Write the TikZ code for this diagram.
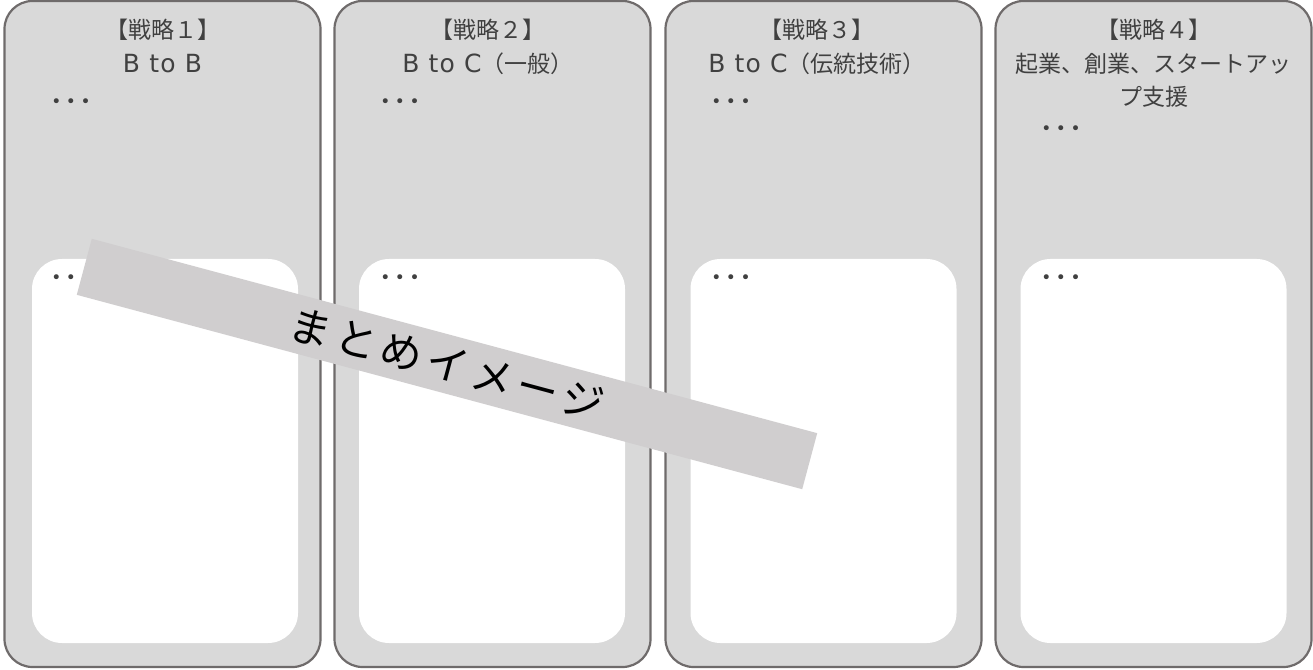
\documentclass[tikz,border=0pt]{standalone}
\usepackage{fontspec}
\setmainfont{Noto Sans CJK JP}
\newfontfamily\lat{DejaVu Sans}[LetterSpace=5]
\newfontfamily\dotfont{DejaVu Sans}
\newcommand{\tridots}{{\dotfont •\hspace{4.6pt}•\hspace{4.6pt}•}}
\definecolor{boxfill}{HTML}{D9D9D9}
\definecolor{boxline}{HTML}{6F6B6B}
\definecolor{txt}{HTML}{404040}
\definecolor{banner}{HTML}{D0CECF}
\begin{document}
\begin{tikzpicture}[x=1pt,y=1pt,
  outerbox/.style={draw=boxline,line width=2.2pt,fill=boxfill,rounded corners=28pt,minimum width=316pt,minimum height=666pt,inner sep=0pt},
  innerbox/.style={fill=white,rounded corners=30pt,minimum width=266pt,minimum height=384pt,inner sep=0pt},
  title/.style={text=txt,font=\fontsize{23}{33.5}\selectfont,align=center,inner sep=0pt,anchor=north},
  dots/.style={text=txt,font=\fontsize{17}{17}\selectfont,inner sep=0pt}]
\useasboundingbox (0,0) rectangle (1313,669);
% outer columns
\node[outerbox] (o1) at (162.5,335) {};
\node[outerbox] (o2) at (492.5,335) {};
\node[outerbox] (o3) at (823.5,335) {};
\node[outerbox] (o4) at (1153.5,335) {};
% inner white panels
\node[innerbox] (i1) at (165,218) {};
\node[innerbox] (i2) at (492,218) {};
\node[innerbox] (i3) at (823.5,218) {};
\node[innerbox] (i4) at (1153.5,218) {};
% titles
\node[title] (t1) at (162.5,650) {【戦略１】\\{\lat\fontsize{25}{33.5}\selectfont B to B}};
\node[title] (t2) at (488,650) {【戦略２】\\{\lat\fontsize{25}{33.5}\selectfont B to C}（一般）};
\node[title] (t3) at (817,650) {【戦略３】\\{\lat\fontsize{25}{33.5}\selectfont B to C}（伝統技術）};
\node[title] (t4) at (1153.5,650) {【戦略４】\\起業、創業、スタートアッ\\プ支援};
% dots
\node[dots] (d1) at (71,566) {\tridots};
\node[dots] (d2) at (400,566) {\tridots};
\node[dots] (d3) at (731,566) {\tridots};
\node[dots] (d4) at (1061,539) {\tridots};
\node[dots] (e1) at (71,390) {\tridots};
\node[dots] (e2) at (400,390) {\tridots};
\node[dots] (e3) at (731,390) {\tridots};
\node[dots] (e4) at (1061,390) {\tridots};
% banner
\node[fill=banner,rotate=-15,minimum width=751pt,minimum height=58pt,inner sep=0pt,
      font=\fontsize{42}{42}\selectfont\addfontfeature{LetterSpace=12}] (b) at (447,305) {まとめイメージ};
\end{tikzpicture}
\end{document}
